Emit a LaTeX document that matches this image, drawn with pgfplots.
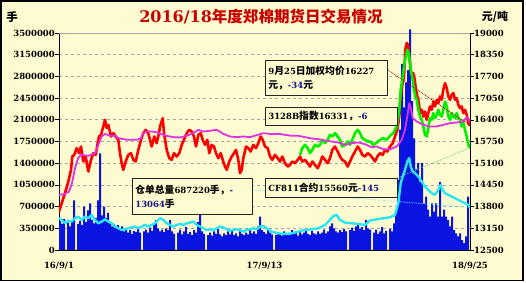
\documentclass[border=0pt]{standalone}
\usepackage{pgfplots}
\pgfplotsset{compat=1.18}
\usepackage{fontspec}
\setmainfont{DejaVu Serif}
\newfontfamily\cjk[Scale=1.15]{Noto Sans CJK SC}
\definecolor{bg}{RGB}{255,251,208}
\definecolor{barblue}{RGB}{10,20,225}
\definecolor{pred}{RGB}{255,0,0}
\definecolor{pmag}{RGB}{225,50,225}
\definecolor{pgreen}{RGB}{0,240,0}
\definecolor{pcyan}{RGB}{40,230,245}
\definecolor{navy}{RGB}{20,20,140}
\definecolor{gridgray}{RGB}{165,165,165}
\definecolor{tred}{RGB}{200,0,0}
\newcommand{\C}[1]{{\cjk\bfseries #1}}
\newcommand{\B}[1]{{\color{navy}#1}}
\begin{document}
\begin{tikzpicture}[font=\bfseries,
  box/.style={draw=black!85, line width=0.8pt, fill=bg, anchor=north west,
    inner xsep=3pt, inner ysep=1pt, align=left, font=\fontsize{8.5}{14}\selectfont\bfseries}]
\useasboundingbox (0,0) rectangle (526pt,283pt);
\fill[white] (0,0) rectangle (526pt,283pt);
\fill[bg] (1pt,2.5pt) rectangle (523pt,282pt);
\draw[black, line width=1.2pt] (1pt,2.5pt) rectangle (523pt,282pt);

\begin{axis}[
  at={(59pt,33pt)}, anchor=south west,
  scale only axis, width=411pt, height=217pt,
  xmin=0, xmax=411, ymin=0, ymax=3500,
  clip=false, scaled y ticks=false, scaled x ticks=false,
  axis x line*=bottom, axis y line*=left,
  axis line style={black, line width=0.8pt},
  xtick={0,205.5,411},
  xticklabels={16/9/1,17/9/13,18/9/25},
  x tick style={draw=none},
  xticklabel style={inner sep=0pt, anchor=north, yshift=-8pt},
  ytick={0,350,...,3500},
  yticklabels={0,350000,700000,1050000,1400000,1750000,2100000,2450000,2800000,3150000,3500000},
  tick align=outside, major tick length=4pt,
  y tick style={black, line width=0.6pt},
  yticklabel style={inner sep=0pt, anchor=east},
  ticklabel style={font=\fontsize{8.5}{10}\selectfont\bfseries},
  ymajorgrids, grid style={gridgray, dash pattern=on 3pt off 3pt, line width=0.6pt},
]
\draw[gridgray, line width=0.8pt] (axis cs:0,3500) -- (axis cs:411,3500);
\addplot[ybar, bar width=2, fill=barblue, draw=none] coordinates {
(1,460) (3,420) (5,500) (7,0) (9,440) (11,380) (13,460) (15,800) (17,0) (19,420) (21,470) (23,400) (25,700) (27,450) (29,640) (31,750) (33,480) (35,430) (37,520) (39,800) (41,1560) (43,560) (45,700) (47,520) (49,600) (51,450) (53,380) (55,420) (57,360) (59,400) (61,340) (63,380) (65,300) (67,350) (69,280) (71,320) (73,260) (75,310) (77,290) (79,340) (81,280) (83,0) (85,300) (87,330) (89,280) (91,360) (93,310) (95,400) (97,480) (99,350) (101,300) (103,330) (105,290) (107,350) (109,320) (111,480) (113,300) (115,260) (117,0) (119,280) (121,330) (123,250) (125,300) (127,370) (129,260) (131,290) (133,240) (135,320) (137,280) (139,450) (141,620) (143,300) (145,260) (147,0) (149,240) (151,280) (153,230) (155,300) (157,260) (159,340) (161,250) (163,220) (165,270) (167,240) (169,300) (171,250) (173,330) (175,240) (177,270) (179,220) (181,300) (183,260) (185,240) (187,280) (189,250) (191,330) (193,270) (195,300) (197,260) (199,380) (201,540) (203,320) (205,290) (207,260) (209,320) (211,280) (213,250) (215,0) (217,240) (219,290) (221,260) (223,230) (225,300) (227,250) (229,270) (231,240) (233,320) (235,260) (237,280) (239,230) (241,300) (243,250) (245,280) (247,340) (249,260) (251,240) (253,310) (255,270) (257,250) (259,300) (261,260) (263,280) (265,330) (267,270) (269,300) (271,380) (273,430) (275,350) (277,300) (279,280) (281,320) (283,290) (285,340) (287,300) (289,0) (291,320) (293,360) (295,310) (297,380) (299,430) (301,340) (303,370) (305,320) (307,480) (309,350) (311,330) (313,0) (315,280) (317,330) (319,260) (321,300) (323,370) (325,270) (327,310) (329,0) (331,340) (333,300) (335,430) (337,600) (339,1130) (341,1940) (343,3000) (345,2300) (347,2700) (349,2900) (351,3560) (353,2400) (355,1800) (357,1300) (359,1400) (361,1100) (363,1400) (365,750) (367,860) (369,650) (371,540) (373,750) (375,620) (377,750) (379,540) (381,1100) (383,540) (385,650) (387,540) (389,480) (391,380) (393,540) (395,320) (397,270) (399,220) (401,270) (403,160) (405,110) (407,220) (409,860)
};
\addplot[pcyan, line width=2.4pt, line join=round] coordinates {
(0,512) (2.7,485) (6,431) (9.3,474) (12.7,458) (16,512) (19.3,539) (22.7,485) (26,539) (29.3,512) (32.7,565) (36,485) (39.3,431) (42.7,458) (46,495) (49.3,458) (52.7,431) (56,377) (59.3,350) (62.7,323) (66,334) (69.3,350) (72.7,366) (76,377) (79.3,350) (82.7,377) (86,404) (89.3,377) (92.7,404) (96,431) (101,512) (104.3,485) (107.7,431) (111,404) (114.3,377) (117.7,404) (121,420) (124.3,404) (127.7,431) (131,442) (134.3,458) (137.7,404) (141,377) (144.3,350) (147.7,323) (151,334) (154.3,323) (157.7,350) (161,377) (164.3,366) (167.7,334) (171,312) (174.3,323) (177.7,334) (181,323) (184.3,296) (187.7,323) (191,334) (194.3,350) (197.7,334) (201,377) (204.3,388) (212.7,296) (219.3,269) (226,258) (232.7,269) (239.3,296) (246,323) (252.7,334) (259.3,350) (266,404) (271,485) (274.3,549) (277.7,565) (281,485) (286,442) (292.7,431) (299.3,420) (306,404) (311,474) (317.7,495) (324.3,512) (331,528) (336,565) (339.3,754) (341.7,1077) (343.7,1185) (346,1292) (348.3,1427) (350.3,1481) (351.7,1346) (353.7,1265) (356,1239) (359.3,1185) (362.7,1104) (366,1023) (369.3,969) (372.7,915) (376,889) (379.3,969) (381.7,1050) (383.7,969) (386,915) (389.3,889) (392.7,862) (396,835) (399.3,808) (402.7,781) (406,754) (409.3,727) (411,687)
};
\coordinate (cyanend) at (axis cs:411,687);
\end{axis}

\begin{axis}[
  at={(59pt,33pt)}, anchor=south west,
  scale only axis, width=411pt, height=217pt,
  xmin=0, xmax=411, ymin=12500, ymax=19000,
  scaled y ticks=false, scaled x ticks=false,
  axis x line=none, axis y line*=right,
  axis line style={black, line width=0.8pt},
  ytick={12500,13150,...,19000},
  yticklabels={12500,13150,13800,14450,15100,15750,16400,17050,17700,18350,19000},
  tick align=outside, major tick length=4pt,
  y tick style={black, line width=0.6pt},
  yticklabel style={inner sep=0pt, anchor=west},
  ticklabel style={font=\fontsize{8.5}{10}\selectfont\bfseries},
]
\addplot[pred, line width=2.6pt, line join=round] coordinates {
(0,13650) (2.7,13900) (6,14200) (9.3,14550) (12,14900) (13.3,15300) (15.3,15350) (17.7,15550) (20,15400) (22,15600) (24.3,15150) (26.7,15300) (29.3,14850) (32,15200) (34.3,15400) (36.7,15350) (38.7,15700) (40,15900) (42,15950) (44.3,16200) (46,16400) (47.7,16150) (49.3,16250) (52,15900) (54.3,16000) (56.7,15900) (59.3,15800) (61,15400) (62.7,15100) (64.3,14900) (66.7,15150) (69.3,15350) (72,15400) (74.3,15200) (76.7,15150) (79.3,15500) (82,15800) (84.3,16000) (86.7,16100) (89.3,16000) (92.7,15600) (95.3,15900) (97.7,15700) (100,16000) (101,16200) (103.7,16450) (105,16000) (107.7,15500) (110.3,15250) (112.7,15200) (115,15400) (117.7,15300) (120.3,15400) (122.7,15650) (125,15800) (127.7,16000) (130.3,16100) (132.7,16050) (135,15900) (137,15600) (139.3,15950) (141.7,16000) (143.7,15800) (146,15650) (148.3,15800) (150.3,15400) (152.7,15650) (155,15600) (157,15400) (159.3,15250) (161.7,15400) (163.7,15200) (166,15000) (167.7,14900) (170.3,15150) (172.7,15300) (175,15400) (177,15500) (179.3,15200) (181,14800) (182.7,14900) (184.3,15250) (187,15600) (189.3,15550) (191.7,15450) (194.3,15650) (197,15550) (199.3,15700) (201.7,15900) (203.7,15800) (206,15600) (208.7,15550) (211,15300) (213.3,15200) (216,15350) (218.7,15250) (221,15150) (223.3,15300) (226,15100) (228.7,15000) (231,15050) (233.3,15150) (236,15100) (238.7,15200) (241,15300) (243.3,15150) (246,15200) (248.7,15100) (251,15000) (253.3,15150) (256,15050) (258.7,14950) (261,15100) (263.3,15300) (266,15200) (268.7,15100) (271,15250) (273.3,15500) (276,15600) (278.7,15450) (281,15300) (283.3,15200) (286,15150) (288.7,15000) (291,15150) (293.3,15300) (296,15450) (298.7,15600) (301,15500) (303.3,15350) (306,15300) (308.7,15400) (311,15350) (313.7,15250) (316,15150) (318.3,15300) (321,15400) (323.7,15350) (326,15500) (328.3,15450) (331,15600) (333.7,15700) (336,15900) (338.3,16100) (340.3,16500) (341.7,17100) (343.3,17450) (345,17700) (346.3,18500) (347.7,18700) (349,18650) (350.3,18300) (351.7,17900) (353,17700) (354.3,17800) (355.7,17600) (357,17300) (358.3,17100) (359.7,16950) (361,16600) (362.7,16700) (364.3,16500) (366,16650) (367.7,16400) (369.3,16600) (371,16800) (372.7,16700) (374.3,16950) (376,16800) (377.7,17000) (379.3,16900) (381,17100) (382.7,17000) (384.3,17300) (386,17500) (387.7,17350) (389.3,17100) (391,17000) (392.7,17150) (394.3,17200) (396,17000) (397.7,17050) (399.3,16850) (401,16750) (402.7,16800) (404.3,16600) (406,16700) (407.7,16550) (409.3,16300) (411,16227)
};
\addplot[pgreen, line width=2.6pt, line join=round] coordinates {
(241,15350) (243.3,15550) (246,15650) (248.7,15550) (251,15400) (253.3,15500) (256,15650) (258.7,15600) (261,15650) (263.3,15800) (266,15700) (268.7,15800) (271,15950) (273.3,15900) (276,16000) (278.7,15900) (281,15800) (283.3,15600) (286,15650) (288.7,15750) (291,15650) (293.3,15800) (296,16000) (298.7,16100) (301,16000) (303.3,15850) (306,15800) (308.7,15750) (311,15750) (314.3,15650) (317.7,15720) (321,15800) (324.3,15850) (327.7,15800) (331,15920) (334.3,16000) (337.7,16200) (340.3,16700) (341.7,17300) (343.7,17700) (345.7,18150) (347,18300) (348.3,18500) (349.7,18400) (351,18100) (352.3,17800) (353.7,17600) (355,17300) (356.3,17100) (357.7,17000) (359.3,16700) (361,16500) (362.7,16400) (364.3,16200) (366,15950) (367.7,15900) (369.3,16150) (371,16450) (372.7,16400) (374.3,16600) (376,16450) (377.7,16550) (379.3,16700) (381,16550) (382.7,16500) (384.3,16700) (386,16950) (387.7,16800) (389.3,16500) (391,16400) (392.7,16600) (394.3,16500) (396,16450) (397.7,16600) (399.3,16450) (401,16400) (402.7,16200) (404.3,16300) (406,16100) (407.7,15900) (409.3,15650) (411,15560)
};
\addplot[pmag, line width=1.8pt, line join=round] coordinates {
(0,14150) (6,14180) (10,14250) (13,14500) (16,14950) (19,15250) (22,15350) (29.3,15320) (36,15400) (39.3,15650) (42.7,15900) (46,15980) (51,15920) (56,15920) (59.3,15850) (64.3,15820) (69.3,15800) (77.7,15800) (82,15850) (84.3,16000) (87.7,16050) (92.7,16050) (99.3,16020) (101,15980) (107.7,15920) (114.3,15880) (121,15870) (127.7,15920) (134.3,16000) (139.3,16100) (144.3,16050) (151,16070) (157.7,16100) (164.3,15980) (171,15900) (177.7,15880) (184.3,15900) (191,15880) (197.7,15940) (204.3,16000) (212.7,15970) (219.3,15980) (226,15950) (232.7,15920) (239.3,15920) (246,15880) (252.7,15840) (259.3,15820) (266,15780) (272.7,15750) (279.3,15720) (286,15650) (292.7,15700) (299.3,15720) (306,15670) (312.7,15580) (317.7,15600) (324.3,15520) (331,15520) (337.7,15600) (342.7,15800) (346,16100) (348.3,16500) (350.3,16900) (351.7,16750) (353.7,16450) (357.7,16350) (364.3,16250) (371,16200) (377.7,16200) (384.3,16250) (391,16300) (397.7,16320) (404.3,16350) (407.7,16480) (409.3,16450) (411,16331)
};
\coordinate (redend) at (axis cs:411,16227);
\coordinate (greenend) at (axis cs:411,15560);
\end{axis}

% leaders
\draw[red!70!black, densely dotted, line width=0.8pt] (388pt,213pt) -- (redend);
\draw[green!70!black!60, densely dotted, line width=0.8pt] (397pt,105pt) -- (greenend);
\draw[pcyan!70, densely dotted, line width=0.8pt] (253pt,93pt) -- (cyanend);

% boxes
\node[box, text width=116pt, minimum height=35pt] at (265pt,223pt)
  {9\C{月}25\C{日加权均价}16227\\\C{元，}\B{-34}\C{元}};
\node[box, text width=126pt, minimum height=18pt] at (265pt,176pt)
  {3128B\C{指数}16331\C{，}\B{-6}};
\node[box, text width=114pt, minimum height=36pt] at (132pt,105pt)
  {\C{仓单总量}687220\C{手，}\B{-}\\\B{13064}\C{手}};
\node[box, text width=126pt, minimum height=19pt] at (265pt,105pt)
  {CF811\C{合约}15560\C{元}\B{-145}};

% titles
\node at (261pt,266pt) {\color{tred}\fontsize{16}{18}\selectfont 2016/18\C{\fontsize{13.5}{16}\selectfont 年度郑棉期货日交易情况}};
\node at (12pt,266pt) {\fontsize{10}{12}\selectfont\C{手}};
\node at (495pt,266pt) {\fontsize{9.5}{12}\selectfont\C{元/吨}};
\end{tikzpicture}
\end{document}
